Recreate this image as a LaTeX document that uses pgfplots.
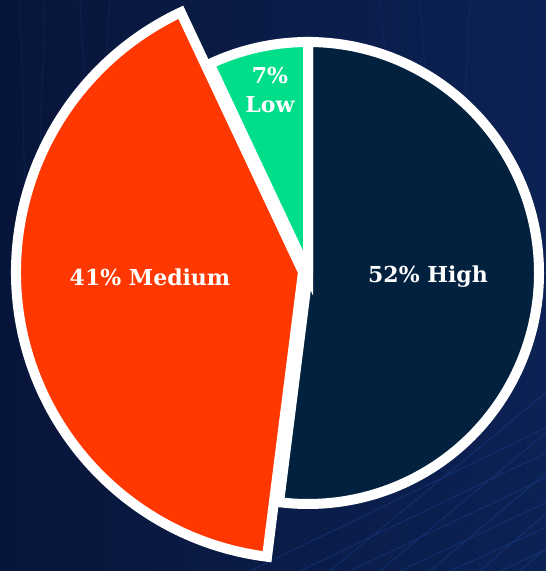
\documentclass[border=0pt]{standalone}
\usepackage{pgfplots}
\pgfplotsset{compat=1.18}
\usepackage{pgfplotstable}
\usepackage{fontspec}
\setmainfont{DejaVu Serif}
\definecolor{bgA}{HTML}{08153A}
\definecolor{bgB}{HTML}{0C2254}
\definecolor{cHigh}{HTML}{02213F}
\definecolor{cMed}{HTML}{FF3700}
\definecolor{cLow}{HTML}{00DE8A}
\definecolor{gridc}{HTML}{2250B0}

% value (percent) of each slice
\pgfplotstableread{
name   value
High   52
Medium 41
Low    7
}\piedata

\pgfplotstablegetelem{0}{value}\of\piedata \xdef\vH{\pgfplotsretval}
\pgfplotstablegetelem{1}{value}\of\piedata \xdef\vM{\pgfplotsretval}
\pgfplotstablegetelem{2}{value}\of\piedata \xdef\vL{\pgfplotsretval}
\pgfmathsetmacro{\aA}{90}
\pgfmathsetmacro{\aB}{\aA-3.6*\vH}
\pgfmathsetmacro{\aC}{\aB-3.6*\vM}
\pgfmathsetmacro{\aD}{\aC-3.6*\vL}

\begin{document}
\begin{tikzpicture}
\begin{axis}[hide axis, scale only axis, width=546bp, height=571bp,
  xmin=0, xmax=546, ymin=0, ymax=571, clip=false]
% background
\fill[left color=bgA, right color=bgB] (axis cs:0,0) rectangle (axis cs:546,571);
\begin{scope}
\clip (axis cs:0,0) rectangle (axis cs:546,571);
\draw[gridc, opacity=0.30, line width=1bp]
  (axis cs:250,0) -- (axis cs:560,150)
  (axis cs:300,0) -- (axis cs:560,125)
  (axis cs:350,0) -- (axis cs:560,100)
  (axis cs:400,0) -- (axis cs:560,75)
  (axis cs:450,0) -- (axis cs:560,50)
  (axis cs:500,0) -- (axis cs:560,28)
  (axis cs:560,190) -- (axis cs:330,0)
  (axis cs:560,150) -- (axis cs:380,0)
  (axis cs:560,110) -- (axis cs:430,0)
  (axis cs:560,70) -- (axis cs:480,0)
  (axis cs:560,35) -- (axis cs:520,0);
\draw[gridc, opacity=0.18, line width=0.8bp]
  (axis cs:20,571) -- (axis cs:25,380)
  (axis cs:45,571) -- (axis cs:40,420)
  (axis cs:80,571) -- (axis cs:85,480)
  (axis cs:110,571) -- (axis cs:105,500)
  (axis cs:380,571) -- (axis cs:385,520)
  (axis cs:420,571) -- (axis cs:425,500)
  (axis cs:470,571) -- (axis cs:465,470);
\end{scope}
% fills
\fill[cHigh] (axis cs:308,298) -- ++(\aA:231bp) arc[start angle=\aA, end angle=\aB, radius=231bp] -- cycle;
\fill[cLow] (axis cs:308,298) -- ++(\aC:231bp) arc[start angle=\aC, end angle=\aD, radius=231bp] -- cycle;
\fill[cMed] (axis cs:303,299) -- ++(\aB:287bp) arc[start angle=\aB, end angle=\aC, radius=287bp] -- cycle;
% borders
\draw[white, line width=10bp, line join=miter] (axis cs:308,298) -- ++(\aA:231bp) arc[start angle=\aA, end angle=\aB, radius=231bp] -- cycle;
\draw[white, line width=10bp, line join=miter] (axis cs:308,298) -- ++(\aC:231bp) arc[start angle=\aC, end angle=\aD, radius=231bp] -- cycle;
\draw[white, line width=10bp, line join=miter] (axis cs:303,299) -- ++(\aB:287bp) arc[start angle=\aB, end angle=\aC, radius=287bp] -- cycle;
% labels
\node[white, font=\bfseries\fontsize{22bp}{26bp}\selectfont] at (axis cs:150,294) {41\% Medium};
\node[white, font=\bfseries\fontsize{22bp}{26bp}\selectfont] at (axis cs:428,294) {52\% High};
\node[white, font=\bfseries\fontsize{22bp}{26bp}\selectfont, align=center] at (axis cs:270,481) {7\%\\[3bp]Low};
\end{axis}
\pgfresetboundingbox
\path[use as bounding box] (current axis.south west) rectangle (current axis.north east);
\end{tikzpicture}
\end{document}
